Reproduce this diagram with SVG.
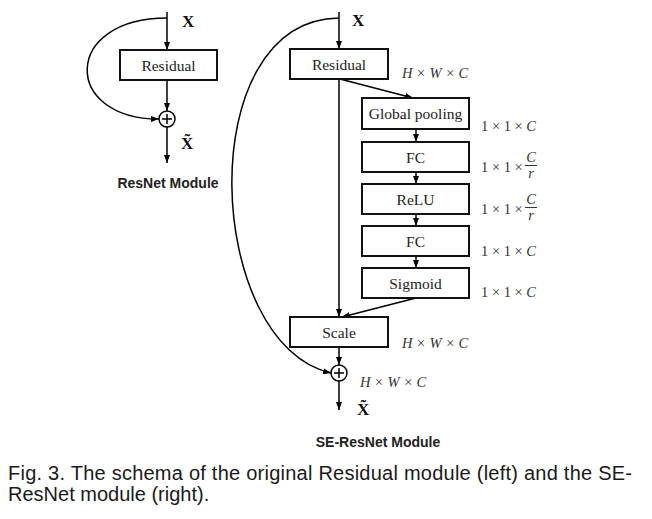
<svg xmlns="http://www.w3.org/2000/svg" width="652" height="519" viewBox="0 0 652 519">
<defs>
<marker id="ah" viewBox="0 0 8 6" refX="8" refY="3" markerWidth="8" markerHeight="6" markerUnits="userSpaceOnUse" orient="auto">
<path d="M0,0 L8,3 L0,6 z" fill="#000"/>
</marker>
<style>
.box{fill:#fff;stroke:#111;stroke-width:2}
.ln{fill:none;stroke:#000;stroke-width:1.5}
.ar{fill:none;stroke:#000;stroke-width:1.5;marker-end:url(#ah)}
.lbl{font-family:"Liberation Serif",serif;font-size:15.5px;fill:#222;text-anchor:middle}
.x{font-family:"Liberation Serif",serif;font-size:17px;font-weight:bold;fill:#111}
.dim{font-family:"Liberation Serif",serif;font-size:14.5px;fill:#333}
.it{font-style:italic}
.ttl{font-family:"Liberation Sans",sans-serif;font-size:14px;font-weight:bold;fill:#222;text-anchor:middle}
.cap{font-family:"Liberation Sans",sans-serif;font-size:20px;fill:#1a1a1a}
.sum{fill:#fff;stroke:#000;stroke-width:1.5}
</style>
</defs>
<rect width="652" height="519" fill="#fff"/>

<g id="connectors">
<!-- left module -->
<line class="ar" x1="167" y1="12" x2="167" y2="50"/>
<line class="ar" x1="167" y1="80" x2="167" y2="111"/>
<path class="ar" d="M167,18 C62,18 62,119 159,119"/>
<line class="ar" x1="167" y1="127" x2="167" y2="163"/>
<!-- right module -->
<line class="ar" x1="339" y1="12" x2="339" y2="49"/>
<line class="ar" x1="339" y1="79" x2="339" y2="317"/>
<line class="ar" x1="340" y1="79" x2="413" y2="98"/>
<line class="ar" x1="416" y1="129" x2="416" y2="142"/>
<line class="ar" x1="416" y1="172" x2="416" y2="184"/>
<line class="ar" x1="416" y1="214" x2="416" y2="226"/>
<line class="ar" x1="416" y1="256" x2="416" y2="268"/>
<line class="ar" x1="416" y1="298" x2="342" y2="317"/>
<line class="ar" x1="339" y1="347" x2="339" y2="365"/>
<path class="ar" d="M339,18 C190,20 205,345 331,373"/>
<line class="ar" x1="339" y1="381" x2="339" y2="410"/>
</g>

<g id="left-input"><text class="x" x="182" y="27">X</text></g>
<g id="left-residual">
<rect class="box" x="120" y="50" width="97" height="30"/>
<text class="lbl" x="168.5" y="71">Residual</text>
</g>
<g id="left-sum">
<circle class="sum" cx="167" cy="119" r="8"/>
<path class="ln" d="M162,119 H172 M167,114 V124" stroke-width="1"/>
</g>
<g id="left-output"><text class="x" x="181" y="149">X&#771;</text></g>
<g id="left-title"><text class="ttl" x="168" y="188">ResNet Module</text></g>

<g id="right-input"><text class="x" x="352" y="26">X</text></g>
<g id="right-residual">
<rect class="box" x="290" y="49" width="98" height="30"/>
<text class="lbl" x="339" y="70">Residual</text>
<text class="dim it" x="402" y="78">H × W × C</text>
</g>
<g id="global-pooling">
<rect class="box" x="362" y="98" width="107" height="31"/>
<text class="lbl" x="415.5" y="119">Global pooling</text>
<text class="dim" x="481" y="131">1 × 1 × <tspan class="it">C</tspan></text>
</g>
<g id="fc1">
<rect class="box" x="362" y="142" width="107" height="30"/>
<text class="lbl" x="415.5" y="163">FC</text>
<text class="dim" x="481" y="172">1 × 1 ×</text>
<text class="dim it" x="531" y="162" text-anchor="middle">C</text>
<line x1="525" y1="165.5" x2="537" y2="165.5" stroke="#333" stroke-width="1"/>
<text class="dim it" x="531" y="178" text-anchor="middle">r</text>
</g>
<g id="relu">
<rect class="box" x="362" y="184" width="107" height="30"/>
<text class="lbl" x="415.5" y="205">ReLU</text>
<text class="dim" x="481" y="214">1 × 1 ×</text>
<text class="dim it" x="531" y="204" text-anchor="middle">C</text>
<line x1="525" y1="207.5" x2="537" y2="207.5" stroke="#333" stroke-width="1"/>
<text class="dim it" x="531" y="220" text-anchor="middle">r</text>
</g>
<g id="fc2">
<rect class="box" x="362" y="226" width="107" height="30"/>
<text class="lbl" x="415.5" y="247">FC</text>
<text class="dim" x="481" y="256">1 × 1 × <tspan class="it">C</tspan></text>
</g>
<g id="sigmoid">
<rect class="box" x="362" y="268" width="107" height="30"/>
<text class="lbl" x="415.5" y="289">Sigmoid</text>
<text class="dim" x="481" y="297">1 × 1 × <tspan class="it">C</tspan></text>
</g>
<g id="scale">
<rect class="box" x="290" y="317" width="98" height="30"/>
<text class="lbl" x="339" y="338">Scale</text>
<text class="dim it" x="402" y="348">H × W × C</text>
</g>
<g id="right-sum">
<circle class="sum" cx="339" cy="373" r="8"/>
<path class="ln" d="M334,373 H344 M339,368 V378" stroke-width="1"/>
<text class="dim it" x="360" y="387">H × W × C</text>
</g>
<g id="right-output"><text class="x" x="357" y="415">X&#771;</text></g>
<g id="right-title"><text class="ttl" x="378" y="447">SE-ResNet Module</text></g>

<g id="caption">
<text class="cap" x="8" y="480" textLength="624" lengthAdjust="spacing">Fig. 3. The schema of the original Residual module (left) and the SE-</text>
<text class="cap" x="8" y="501">ResNet module (right).</text>
</g>
</svg>
